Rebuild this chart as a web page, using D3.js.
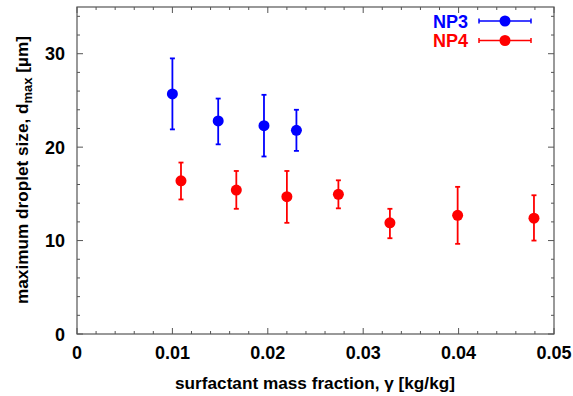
<!DOCTYPE html>
<html><head><meta charset="utf-8">
<script src="https://cdn.jsdelivr.net/npm/d3@7"></script>
<style>body{margin:0;background:#fff}svg{display:block}text{font-family:"Liberation Sans",Arial,sans-serif;font-weight:bold}</style>
</head><body><div id="c"></div>
<script>
const np3X = [0.0100, 0.0148, 0.0196, 0.0230];
const np3Y = [25.7, 22.8, 22.3, 21.8];
const np3Lo = [21.9, 20.3, 19.0, 19.6];
const np3Hi = [29.5, 25.2, 25.6, 24.0];

const np4X = [0.0109, 0.0167, 0.0220, 0.0274, 0.0328, 0.0399, 0.0479];
const np4Y = [16.4, 15.4, 14.7, 14.95, 11.9, 12.7, 12.4];
const np4Lo = [14.4, 13.4, 11.9, 13.45, 10.25, 9.65, 10.0];
const np4Hi = [18.35, 17.45, 17.45, 16.45, 13.4, 15.75, 14.85];

const xTicks = [0, 0.01, 0.02, 0.03, 0.04, 0.05];
const xTickLabels = ["0", "0.01", "0.02", "0.03", "0.04", "0.05"];
const yTicks = [0, 10, 20, 30];
const seriesNames = ["NP3", "NP4"];
const seriesColors = ["#0000ff", "#ff0000"];

const W = 573, H = 396;
const L = 77, R = 554, T = 7, B = 334;
const x = d3.scaleLinear().domain([0, 0.05]).range([L, R]);
const y = d3.scaleLinear().domain([0, 35]).range([B, T]);

const svg = d3.select("#c").append("svg").attr("width", W).attr("height", H);

// frame
svg.append("rect").attr("x", L).attr("y", T).attr("width", R - L).attr("height", B - T)
  .attr("fill", "none").attr("stroke", "#555").attr("stroke-width", 1.2);

// ticks (inward, mirrored)
const g = svg.append("g").attr("stroke", "#555").attr("stroke-width", 1);
d3.range(0, 0.0501, 0.002).forEach((v, i) => {
  const major = i % 5 === 0, len = major ? 6 : 3;
  const px = x(v);
  g.append("line").attr("x1", px).attr("x2", px).attr("y1", B).attr("y2", B - len);
  g.append("line").attr("x1", px).attr("x2", px).attr("y1", T).attr("y2", T + len);
});
d3.range(0, 35.01, 2).forEach(v => {
  const major = v % 10 === 0, len = major ? 6 : 3;
  const py = y(v);
  g.append("line").attr("y1", py).attr("y2", py).attr("x1", L).attr("x2", L + len);
  g.append("line").attr("y1", py).attr("y2", py).attr("x1", R).attr("x2", R - len);
});

// tick labels
svg.selectAll(".xl").data(xTicks).enter().append("text")
  .attr("x", d => x(d)).attr("y", 359).attr("text-anchor", "middle")
  .attr("font-size", 18).text((d, i) => xTickLabels[i]);
svg.selectAll(".yl").data(yTicks).enter().append("text")
  .attr("x", 65).attr("y", d => y(d) + 6.5).attr("text-anchor", "end")
  .attr("font-size", 18).text(d => d);

// axis titles
svg.append("text").attr("x", 315).attr("y", 389).attr("text-anchor", "middle")
  .attr("font-size", 17.2).text("surfactant mass fraction, γ [kg/kg]");
const yt = svg.append("text").attr("transform", "translate(28,170) rotate(-90)")
  .attr("text-anchor", "middle").attr("font-size", 17.2);
yt.append("tspan").text("maximum droplet size,  d");
yt.append("tspan").attr("font-size", 13).attr("dy", 4).text("max");
yt.append("tspan").attr("dy", -4).text(" [µm]");

function drawSeries(xs, ys, lo, hi, color) {
  const gg = svg.append("g");
  xs.forEach((xv, i) => {
    const px = x(xv);
    gg.append("line").attr("x1", px).attr("x2", px).attr("y1", y(lo[i])).attr("y2", y(hi[i]))
      .attr("stroke", color).attr("stroke-width", 1.8);
    [lo[i], hi[i]].forEach(v => gg.append("line").attr("x1", px - 2.5).attr("x2", px + 2.5)
      .attr("y1", y(v)).attr("y2", y(v)).attr("stroke", color).attr("stroke-width", 1.8));
    gg.append("circle").attr("cx", px).attr("cy", y(ys[i])).attr("r", 5.5).attr("fill", color);
  });
}
drawSeries(np3X, np3Y, np3Lo, np3Hi, seriesColors[0]);
drawSeries(np4X, np4Y, np4Lo, np4Hi, seriesColors[1]);

// legend
seriesNames.forEach((n, i) => {
  const cy = 21 + i * 19.5, c = seriesColors[i];
  svg.append("text").attr("x", 468).attr("y", cy + 6.5).attr("text-anchor", "end")
    .attr("font-size", 18).attr("fill", c).text(n);
  svg.append("line").attr("x1", 479).attr("x2", 531).attr("y1", cy).attr("y2", cy)
    .attr("stroke", c).attr("stroke-width", 1.5);
  [479, 531].forEach(xx => svg.append("line").attr("x1", xx).attr("x2", xx)
    .attr("y1", cy - 2.5).attr("y2", cy + 2.5).attr("stroke", c).attr("stroke-width", 1.5));
  svg.append("circle").attr("cx", 505).attr("cy", cy).attr("r", 5.5).attr("fill", c);
});
</script></body></html>
